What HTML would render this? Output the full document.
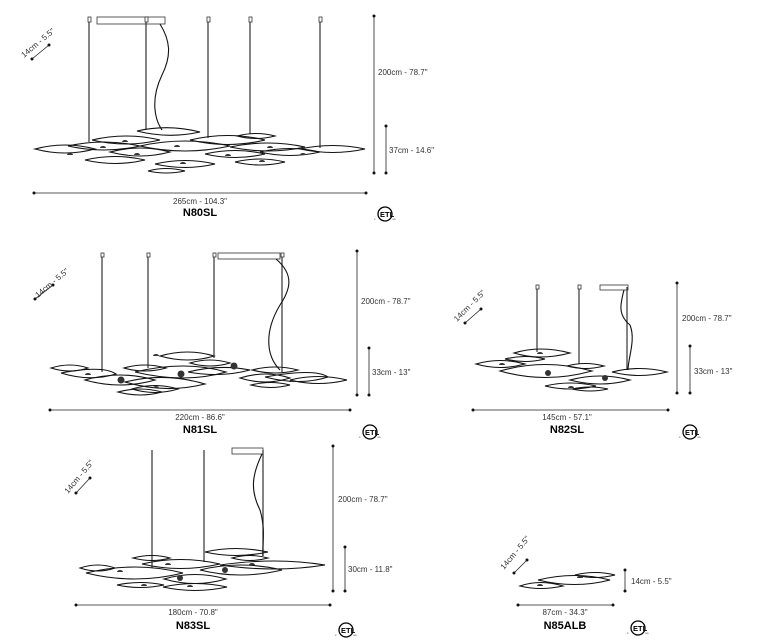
<!DOCTYPE html>
<html><head><meta charset="utf-8"><style>
html,body{margin:0;padding:0;background:#fff;width:769px;height:641px;overflow:hidden}
svg{display:block}
text{font-family:"Liberation Sans",sans-serif;fill:#333}
.t{font-size:8px}
.b{font-size:11px;font-weight:bold;fill:#000}
.l{fill:none;stroke:#111;stroke-width:1.1}
.r{stroke:#333;stroke-width:1.2}
.d{stroke:#222;stroke-width:0.8;marker-start:url(#m);marker-end:url(#m)}
.c{fill:#fff;stroke:#333;stroke-width:0.8}
</style></head><body>
<svg width="769" height="641" viewBox="0 0 769 641" xmlns="http://www.w3.org/2000/svg">
<defs>
<marker id="m" markerWidth="4" markerHeight="4" refX="2" refY="2" markerUnits="userSpaceOnUse"><circle cx="2" cy="2" r="1.5" fill="#111"/></marker>
<g id="etl"><circle cx="0" cy="0" r="7" fill="none" stroke="#000" stroke-width="1.3"/><text x="-5" y="3" style="font-size:7.5px;font-weight:bold;fill:#000">ETL</text><text x="-11" y="6" style="font-size:3px">c</text><text x="7.5" y="6" style="font-size:3px">us</text></g>
<g id="dome"><path d="M-3 0 A3 2 0 0 1 3 0Z" fill="#333"/></g>
</defs>

<!-- N80SL -->
<g>
<rect class="c" x="97" y="17" width="68" height="7"/>
<g class="r"><line x1="89" y1="19" x2="89" y2="142"/><line x1="146" y1="19" x2="146" y2="130"/><line x1="208" y1="19" x2="208" y2="138"/><line x1="250" y1="19" x2="250" y2="134"/><line x1="320" y1="19" x2="320" y2="148"/></g>
<g fill="#fff" stroke="#333" stroke-width="0.8"><rect x="88" y="17" width="3" height="5"/><rect x="145" y="17" width="3" height="5"/><rect x="207" y="17" width="3" height="5"/><rect x="249" y="17" width="3" height="5"/><rect x="319" y="17" width="3" height="5"/></g>
<path class="l" d="M160 24 C170 40 172 55 162 75 C150 100 155 120 162 130"/>
<g class="l">
<path d="M35 149 Q65 141 95 149 Q65 157 35 149Z"/>
<path d="M68 146 Q104 138 140 146 Q104 154 68 146Z"/>
<path d="M92 140 Q126 132 160 140 Q126 148 92 140Z"/>
<path d="M137 131 Q168 124 200 132 Q168 139 137 131Z"/>
<path d="M110 152 Q140 144 170 152 Q140 160 110 152Z"/>
<path d="M140 146 Q185 136 230 146 Q185 156 140 146Z"/>
<path d="M85 160 Q115 153 145 160 Q115 167 85 160Z"/>
<path d="M155 164 Q185 157 215 164 Q185 171 155 164Z"/>
<path d="M148 171 Q166 166 185 171 Q166 175 148 171Z"/>
<path d="M190 140 Q228 131 265 140 Q228 149 190 140Z"/>
<path d="M205 154 Q235 147 265 154 Q235 161 205 154Z"/>
<path d="M237 136 Q256 131 275 136 Q256 141 237 136Z"/>
<path d="M235 162 Q260 156 285 162 Q260 168 235 162Z"/>
<path d="M230 147 Q268 139 305 147 Q268 155 230 147Z"/>
<path d="M260 152 Q290 145 320 152 Q290 159 260 152Z"/>
<path d="M300 149 Q333 142 365 149 Q333 156 300 149Z"/>
</g>
<g><use href="#dome" x="70" y="155"/><use href="#dome" x="125" y="142"/><use href="#dome" x="103" y="148"/><use href="#dome" x="137" y="155"/><use href="#dome" x="177" y="147"/><use href="#dome" x="183" y="164"/><use href="#dome" x="228" y="156"/><use href="#dome" x="262" y="162"/><use href="#dome" x="270" y="148"/><use href="#dome" x="303" y="155"/></g>
<g class="d"><line x1="374" y1="16" x2="374" y2="173"/><line x1="386" y1="126" x2="386" y2="173"/><line x1="34" y1="193" x2="366" y2="193"/><line x1="32" y1="59" x2="49" y2="45"/></g>
<text class="t" x="378" y="75">200cm - 78.7"</text>
<text class="t" x="389" y="153">37cm - 14.6"</text>
<text class="t" x="200" y="204" text-anchor="middle">265cm - 104.3"</text>
<text class="b" x="200" y="216" text-anchor="middle">N80SL</text>
<text class="t" transform="translate(24,58) rotate(-40)">14cm - 5.5"</text>
<use href="#etl" x="385" y="214"/>
</g>

<!-- N81SL -->
<g>
<rect class="c" x="218" y="253" width="62" height="6"/>
<g class="r"><line x1="102" y1="255" x2="102" y2="372"/><line x1="148" y1="255" x2="148" y2="368"/><line x1="214" y1="255" x2="214" y2="358"/><line x1="282" y1="255" x2="282" y2="372"/></g>
<g fill="#fff" stroke="#333" stroke-width="0.8"><rect x="101" y="253" width="3" height="4"/><rect x="147" y="253" width="3" height="4"/><rect x="213" y="253" width="3" height="4"/><rect x="281" y="253" width="3" height="4"/></g>
<path class="l" d="M276 259 C295 275 290 290 280 305 C265 330 265 355 280 370"/>
<g class="l">
<path d="M51 368 Q70 362 88 368 Q70 374 51 368Z"/>
<path d="M61 373 Q103 365 116 374 Q90 382 61 373Z"/>
<path d="M85 380 Q120 370 155 380 Q120 390 85 380Z"/>
<path d="M125 382 Q165 372 205 384 Q165 394 125 382Z"/>
<path d="M132 389 Q155 382 178 389 Q155 396 132 389Z"/>
<path d="M118 392 Q140 386 162 392 Q140 398 118 392Z"/>
<path d="M124 368 Q145 362 166 368 Q145 374 124 368Z"/>
<path d="M135 372 Q185 360 226 372 Q185 384 135 372Z"/>
<path d="M160 356 Q188 348 214 356 Q188 364 160 356Z"/>
<path d="M190 363 Q210 357 230 363 Q210 369 190 363Z"/>
<path d="M188 372 Q220 364 250 370 Q220 378 188 372Z"/>
<path d="M240 378 Q265 370 290 378 Q265 386 240 378Z"/>
<path d="M251 385 Q270 380 290 385 Q270 390 251 385Z"/>
<path d="M265 377 Q315 368 328 377 Q300 386 265 377Z"/>
<path d="M290 380 Q318 373 347 380 Q318 387 290 380Z"/>
<path d="M252 370 Q275 364 298 370 Q275 376 252 370Z"/>
</g>
<g><use href="#dome" x="88" y="375"/><use href="#dome" x="156" y="356"/><use href="#dome" x="156" y="388"/><use href="#dome" x="292" y="382"/><circle cx="121" cy="380" r="3.5" fill="#333"/><circle cx="181" cy="374" r="3.5" fill="#333"/><circle cx="234" cy="366" r="3.5" fill="#333"/></g>
<g class="d"><line x1="357" y1="251" x2="357" y2="395"/><line x1="369" y1="348" x2="369" y2="395"/><line x1="50" y1="410" x2="350" y2="410"/><line x1="35" y1="299" x2="53" y2="285"/></g>
<text class="t" x="361" y="304">200cm - 78.7"</text>
<text class="t" x="372" y="375">33cm - 13"</text>
<text class="t" x="200" y="420" text-anchor="middle">220cm - 86.6"</text>
<text class="b" x="200" y="433" text-anchor="middle">N81SL</text>
<text class="t" transform="translate(38,298) rotate(-40)">14cm - 5.5"</text>
<use href="#etl" x="370" y="432"/>
</g>

<!-- N82SL -->
<g>
<rect class="c" x="600" y="285" width="28" height="5"/>
<g class="r"><line x1="537" y1="287" x2="537" y2="352"/><line x1="579" y1="287" x2="579" y2="364"/><line x1="627" y1="287" x2="627" y2="370"/></g>
<g fill="#fff" stroke="#333" stroke-width="0.8"><rect x="536" y="285" width="3" height="4"/><rect x="578" y="285" width="3" height="4"/></g>
<path class="l" d="M624 290 C620 305 618 315 630 325 C636 340 628 358 628 370"/>
<g class="l">
<path d="M514 353 Q540 345 570 353 Q540 361 514 353Z"/>
<path d="M505 359 Q525 354 545 359 Q525 364 505 359Z"/>
<path d="M476 364 Q500 357 525 364 Q500 371 476 364Z"/>
<path d="M500 371 Q545 358 592 371 Q545 384 500 371Z"/>
<path d="M567 366 Q585 361 604 366 Q585 371 567 366Z"/>
<path d="M570 380 Q600 372 630 380 Q600 388 570 380Z"/>
<path d="M612 372 Q640 365 667 372 Q640 379 612 372Z"/>
<path d="M545 386 Q570 380 596 386 Q570 392 545 386Z"/>
<path d="M572 389 Q590 385 608 389 Q590 393 572 389Z"/>
</g>
<g><use href="#dome" x="540" y="354"/><use href="#dome" x="502" y="365"/><use href="#dome" x="571" y="388"/><circle cx="548" cy="373" r="3" fill="#333"/><circle cx="605" cy="378" r="3" fill="#333"/></g>
<g class="d"><line x1="677" y1="283" x2="677" y2="393"/><line x1="690" y1="346" x2="690" y2="393"/><line x1="473" y1="410" x2="668" y2="410"/><line x1="465" y1="323" x2="481" y2="309"/></g>
<text class="t" x="682" y="321">200cm - 78.7"</text>
<text class="t" x="694" y="374">33cm - 13"</text>
<text class="t" x="567" y="420" text-anchor="middle">145cm - 57.1"</text>
<text class="b" x="567" y="433" text-anchor="middle">N82SL</text>
<text class="t" transform="translate(457,322) rotate(-45)">14cm - 5.5"</text>
<use href="#etl" x="690" y="432"/>
</g>

<!-- N83SL -->
<g>
<rect class="c" x="232" y="448" width="31" height="6"/>
<g class="r"><line x1="152" y1="450" x2="152" y2="568"/><line x1="204" y1="450" x2="204" y2="562"/><line x1="263" y1="450" x2="263" y2="556"/></g>
<path class="l" d="M262 454 C252 475 250 490 260 510 C266 530 262 545 263 556"/>
<g class="l">
<path d="M80 568 Q98 562 115 568 Q98 574 80 568Z"/>
<path d="M86 573 Q135 561 183 573 Q135 585 86 573Z"/>
<path d="M133 558 Q152 553 170 558 Q152 563 133 558Z"/>
<path d="M142 564 Q180 555 220 564 Q180 573 142 564Z"/>
<path d="M164 579 Q195 570 226 579 Q195 588 164 579Z"/>
<path d="M117 585 Q140 580 164 585 Q140 590 117 585Z"/>
<path d="M163 587 Q195 580 227 587 Q195 594 163 587Z"/>
<path d="M200 570 Q240 560 282 570 Q240 580 200 570Z"/>
<path d="M205 552 Q235 545 268 552 Q235 559 205 552Z"/>
<path d="M232 558 Q250 553 268 558 Q250 563 232 558Z"/>
<path d="M220 565 Q275 557 325 565 Q275 573 220 565Z"/>
</g>
<g><use href="#dome" x="120" y="572"/><use href="#dome" x="168" y="565"/><use href="#dome" x="252" y="565"/><use href="#dome" x="190" y="587"/><use href="#dome" x="144" y="586"/><circle cx="180" cy="578" r="3" fill="#333"/><circle cx="225" cy="570" r="3" fill="#333"/></g>
<g class="d"><line x1="333" y1="446" x2="333" y2="591"/><line x1="345" y1="547" x2="345" y2="591"/><line x1="76" y1="605" x2="330" y2="605"/><line x1="76" y1="493" x2="90" y2="478"/></g>
<text class="t" x="338" y="502">200cm - 78.7"</text>
<text class="t" x="348" y="572">30cm - 11.8"</text>
<text class="t" x="193" y="615" text-anchor="middle">180cm - 70.8"</text>
<text class="b" x="193" y="629" text-anchor="middle">N83SL</text>
<text class="t" transform="translate(68,494) rotate(-50)">14cm - 5.5"</text>
<use href="#etl" x="346" y="630"/>
</g>

<!-- N85ALB -->
<g>
<g class="l">
<path d="M520 586 Q540 579 563 586 Q540 591 520 586Z"/>
<path d="M538 580 Q575 571 610 580 Q575 589 538 580Z"/>
<path d="M575 575 Q595 570 615 575 Q595 580 575 575Z"/>
</g>
<g><use href="#dome" x="540" y="586"/><use href="#dome" x="580" y="578"/></g>
<g class="d"><line x1="625" y1="570" x2="625" y2="591"/><line x1="518" y1="605" x2="613" y2="605"/><line x1="514" y1="573" x2="527" y2="560"/></g>
<text class="t" x="631" y="584">14cm - 5.5"</text>
<text class="t" x="565" y="615" text-anchor="middle">87cm - 34.3"</text>
<text class="b" x="565" y="629" text-anchor="middle">N85ALB</text>
<text class="t" transform="translate(504,570) rotate(-50)">14cm - 5.5"</text>
<use href="#etl" x="638" y="628"/>
</g>
</svg>
</body></html>
